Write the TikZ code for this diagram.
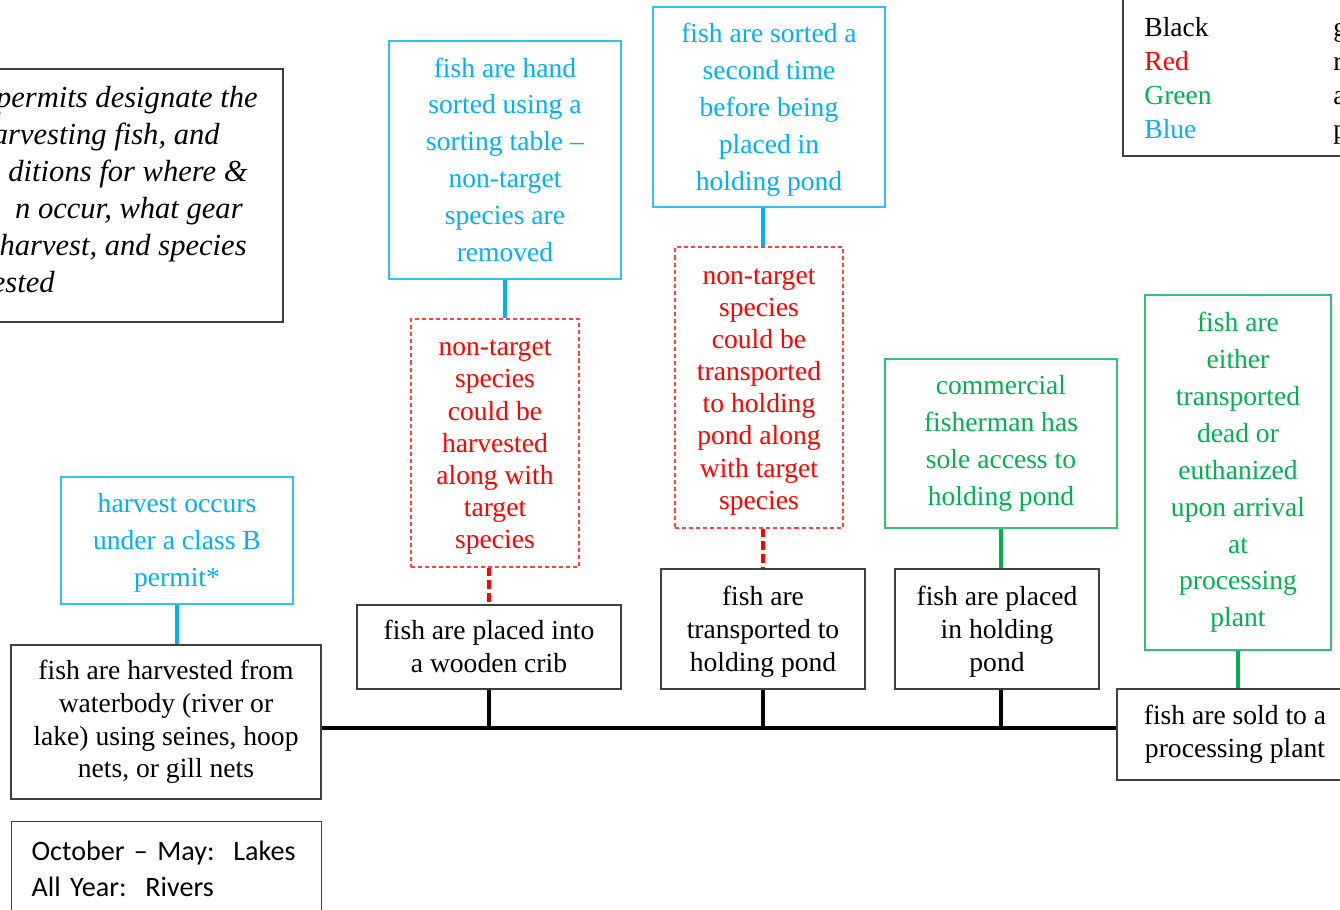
\documentclass[tikz,border=0pt]{standalone}
\usepackage{fontspec}
\setmainfont{Liberation Serif}
\newfontfamily\notefont{Carlito}
\usepackage{xcolor}
\usetikzlibrary{positioning}

\definecolor{sortblue}{HTML}{00B0F0}
\definecolor{accessgreen}{HTML}{00B050}
\definecolor{riskred}{HTML}{FF0000}

% full line height on the first row of a box
\newcommand{\rowtop}{\rule{0pt}{0.89em}}

\begin{document}
\begin{tikzpicture}[
    x=0.02cm,
    y=-0.02cm,
    dims/.style 2 args={
        minimum width=#1*0.02cm,
        minimum height=#2*0.02cm
    },
    wordlines/.style={
        execute at end node={\rule[-0.22em]{0pt}{0pt}}
    },
    stage/.style={
        rectangle,
        draw=black!75,
        line width=0.7pt,
        align=center,
        inner sep=0pt,
        wordlines,
        font=\fontsize{15.7}{18.7}\selectfont
    },
    sortbox/.style={
        rectangle,
        draw=sortblue!80,
        text=sortblue,
        line width=0.7pt,
        align=center,
        inner sep=0pt,
        wordlines,
        font=\fontsize{15.7}{21}\selectfont
    },
    riskbox/.style={
        rectangle,
        draw=riskred!75,
        text=riskred,
        line width=0.7pt,
        dash pattern=on 2.3pt off 1.7pt,
        align=center,
        inner sep=0pt,
        wordlines,
        font=\fontsize{15.7}{18.3}\selectfont
    },
    accessbox/.style={
        rectangle,
        draw=accessgreen!80,
        text=accessgreen,
        line width=0.7pt,
        align=center,
        inner sep=0pt,
        font=\fontsize{15.7}{21}\selectfont
    },
    spineline/.style={line width=2.2pt, black},
    sortline/.style={line width=2.2pt, sortblue},
    accessline/.style={line width=2.2pt, accessgreen},
    riskline/.style={line width=2.2pt, riskred, dash pattern=on 5pt off 2.3pt}
]

\useasboundingbox (0,0) rectangle (1340,910);
\clip (0,0) rectangle (1340,910);

% note and legend, cut by the page edge
\node[draw=black!75, line width=0.7pt, dims={313}{253}] (note) at (126.5,195.5) {};
\foreach \txt/\xr/\row in {permits designate the/258/0, arvesting fish{,} and/220/1,
    ditions for where \&/248/2, n occur{,} what gear/243/3,
    harvest{,} and species/247/4, ested/55/5}
    \node[anchor=base east, inner sep=0pt, font=\fontsize{17.4}{21}\selectfont\itshape]
        (note\row) at (\xr,107+37.1*\row) {\txt};

\node[draw=black!75, line width=0.7pt, dims={277}{196}] (legend) at (1261.5,58) {};
\foreach \txt/\col/\row in {Black/black/0, Red/riskred/1, Green/accessgreen/2, Blue/sortblue/3}
    \node[anchor=base west, inner sep=0pt, text=\col, font=\fontsize{15.7}{19}\selectfont]
        (legend\txt) at (1144,36+34*\row) {\txt};
\foreach \txt/\row in {g/0, r/1, a/2, p/3}
    \node[anchor=base west, inner sep=0pt, font=\fontsize{15.7}{19}\selectfont]
        (legendkey\row) at (1333,36+34*\row) {\txt};

% steps along the spine
\node[stage, dims={310}{154}] (harvest) at (166,722)
    {fish are harvested from\\waterbody (river or\\lake) using seines, hoop\\nets, or gill nets};
\node[stage, dims={264}{84}] (crib) at (489,647)
    {\rowtop fish are placed into\\a wooden crib};
\node[stage, dims={204}{120}] (transport) at (763,629)
    {\rowtop fish are\\transported to\\holding pond};
\node[stage, dims={204}{120}] (holding) at (997,629)
    {\rowtop fish are placed\\in holding\\pond};
\node[stage, dims={236}{91}] (sold) at (1235,734.5)
    {fish are sold to a\\processing plant};

\node[draw=black!75, line width=0.7pt, anchor=north west, dims={310}{94}, align=left,
    text width=270*0.02cm, inner xsep=20*0.02cm, inner ysep=16*0.02cm,
    font=\notefont\fontsize{16}{20.6}\selectfont]
    (season) at (11,821) {October – May:\ \ Lakes\\All Year:\ \ Rivers};

% side notes
\node[sortbox, dims={232}{127}] (permit) at (177,540.5)
    {\rowtop harvest occurs\\under a class B\\permit*};
\node[sortbox, dims={232}{238}] (sortA) at (505,160)
    {\rowtop fish are hand\\sorted using a\\sorting table –\\non-target\\species are\\removed};
\node[sortbox, dims={232}{200}] (sortB) at (769,107)
    {\rowtop fish are sorted a\\second time\\before being\\placed in\\holding pond};
\node[riskbox, dims={168}{248}] (riskA) at (495,443)
    {\rowtop non-target\\species\\could be\\harvested\\along with\\target\\species};
\node[riskbox, dims={168}{281}] (riskB) at (759,387.5)
    {\rowtop non-target\\species\\could be\\transported\\to holding\\pond along\\with target\\species};
\node[accessbox, dims={232}{169}] (accessA) at (1001,443.5)
    {commercial\\fisherman has\\sole access to\\holding pond};
\node[accessbox, dims={186}{355}] (accessB) at (1238,472.5)
    {fish are\\either\\transported\\dead or\\euthanized\\upon arrival\\at\\processing\\plant};

\coordinate (spine) at (0,728);

\draw[spineline] (harvest.east |- spine) -- (sold.west |- spine);
\draw[spineline] (crib.south) -- (crib.south |- spine);
\draw[spineline] (transport.south) -- (transport.south |- spine);
\draw[spineline] (holding.south -| accessA.south) -- (accessA.south |- spine);

\draw[sortline] (permit.south) -- (permit.south |- harvest.north);
\draw[sortline] (sortA.south) -- (sortA.south |- riskA.north);
\draw[sortline] (sortB.south -| transport.north) -- (riskB.north -| transport.north);
\draw[riskline] (riskA.south -| crib.north) -- (crib.north);
\draw[riskline] (riskB.south -| transport.north) -- (transport.north);
\draw[accessline] (accessA.south) -- (accessA.south |- holding.north);
\draw[accessline] (accessB.south) -- (accessB.south |- sold.north);

\end{tikzpicture}
\end{document}
